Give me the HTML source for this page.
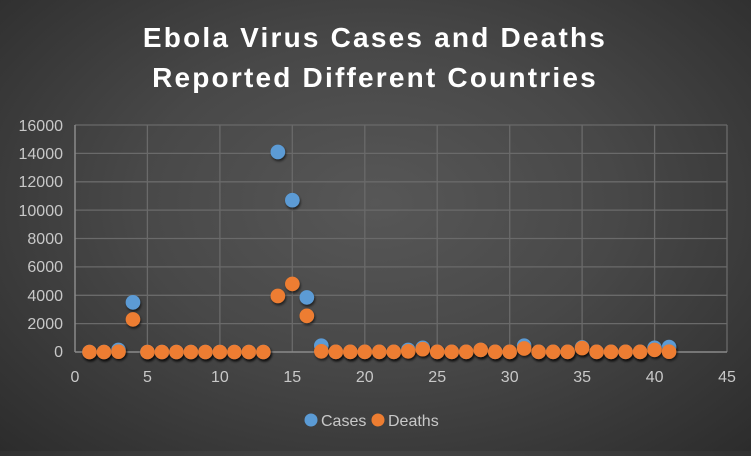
<!DOCTYPE html>
<html><head><style>
html,body{margin:0;padding:0;}
body{width:751px;height:451px;overflow:hidden;background:radial-gradient(ellipse at 50% 45%,#575757 0%,#484848 45%,#2c2c2c 100%);font-family:"Liberation Sans",sans-serif;}
</style></head><body>
<svg width="751" height="451" xmlns="http://www.w3.org/2000/svg">
<defs><filter id="sh" x="-50%" y="-50%" width="200%" height="200%"><feDropShadow dx="1" dy="2" stdDeviation="1.2" flood-color="#000" flood-opacity="0.6"/></filter></defs>
<text x="375" y="47" text-anchor="middle" fill="#fff" font-size="28" font-weight="bold" letter-spacing="2.2">Ebola Virus Cases and Deaths</text>
<text x="375" y="87" text-anchor="middle" fill="#fff" font-size="28" font-weight="bold" letter-spacing="2.2">Reported Different Countries</text>
<g stroke="#6a6a6a" stroke-width="1.3">
<line x1="75" y1="125" x2="727" y2="125"/><line x1="75" y1="153.4" x2="727" y2="153.4"/><line x1="75" y1="181.8" x2="727" y2="181.8"/><line x1="75" y1="210.1" x2="727" y2="210.1"/><line x1="75" y1="238.5" x2="727" y2="238.5"/><line x1="75" y1="266.9" x2="727" y2="266.9"/><line x1="75" y1="295.3" x2="727" y2="295.3"/><line x1="75" y1="323.6" x2="727" y2="323.6"/>
<line x1="147.4" y1="125" x2="147.4" y2="352"/><line x1="219.9" y1="125" x2="219.9" y2="352"/><line x1="292.3" y1="125" x2="292.3" y2="352"/><line x1="364.8" y1="125" x2="364.8" y2="352"/><line x1="437.2" y1="125" x2="437.2" y2="352"/><line x1="509.7" y1="125" x2="509.7" y2="352"/><line x1="582.1" y1="125" x2="582.1" y2="352"/><line x1="654.6" y1="125" x2="654.6" y2="352"/><line x1="727" y1="125" x2="727" y2="352"/>
</g>
<g stroke="#8a8a8a" stroke-width="1.5"><line x1="75" y1="125" x2="75" y2="352"/><line x1="75" y1="352" x2="727" y2="352"/></g>
<g fill="#c8c8c8" font-size="16" text-anchor="end">
<text x="63" y="131">16000</text><text x="63" y="159">14000</text><text x="63" y="187">12000</text><text x="63" y="216">10000</text><text x="63" y="244">8000</text><text x="63" y="272">6000</text><text x="63" y="301">4000</text><text x="63" y="329">2000</text><text x="63" y="357">0</text>
</g>
<g fill="#c8c8c8" font-size="16" text-anchor="middle">
<text x="75" y="382">0</text><text x="147.4" y="382">5</text><text x="219.9" y="382">10</text><text x="292.3" y="382">15</text><text x="364.8" y="382">20</text><text x="437.2" y="382">25</text><text x="509.7" y="382">30</text><text x="582.1" y="382">35</text><text x="654.6" y="382">40</text><text x="727" y="382">45</text>
</g>
<g id="pts"></g>
<circle cx="311" cy="420" r="6.5" fill="#5b9bd5"/><text x="321" y="426" fill="#c8c8c8" font-size="16">Cases</text>
<circle cx="378" cy="420" r="6.5" fill="#ed7d31"/><text x="388" y="426" fill="#c8c8c8" font-size="16">Deaths</text>
</svg>
<script>
var cases={1:0,2:0,3:150,4:3500,5:0,6:0,7:0,8:0,9:0,10:0,11:0,12:0,13:0,14:14100,15:10700,16:3850,17:450,18:10,19:10,20:10,21:10,22:10,23:150,24:300,25:10,26:10,27:10,28:150,29:10,30:10,31:450,32:10,33:10,34:10,35:320,36:10,37:10,38:10,39:10,40:300,41:350};
var deaths={1:0,2:0,3:20,4:2300,5:0,6:0,7:0,8:0,9:0,10:0,11:0,12:0,13:0,14:3950,15:4800,16:2550,17:50,18:10,19:10,20:10,21:10,22:10,23:50,24:200,25:10,26:10,27:10,28:150,29:10,30:10,31:250,32:10,33:10,34:10,35:280,36:10,37:10,38:10,39:10,40:150,41:20};
var g=document.getElementById('pts'),s='';
function X(v){return 75+v*14.489;}function Y(v){return 352-v*0.014188;}
for(var k in cases)s+='<circle cx="'+X(+k)+'" cy="'+Y(cases[k])+'" r="7.3" fill="#5b9bd5" filter="url(#sh)"/>';
for(var k in deaths)s+='<circle cx="'+X(+k)+'" cy="'+Y(deaths[k])+'" r="7.3" fill="#ed7d31" filter="url(#sh)"/>';
g.innerHTML=s;
</script>
</body></html>
